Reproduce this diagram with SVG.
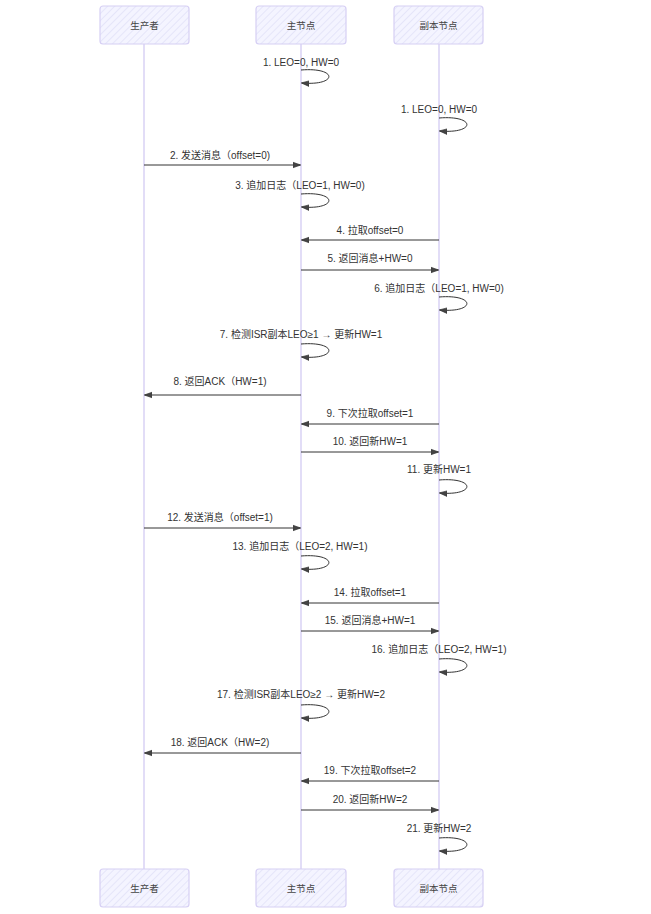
<svg xmlns="http://www.w3.org/2000/svg" width="651" height="914" viewBox="0 0 651 914">
<defs>
<pattern id="hatch" width="5" height="5" patternUnits="userSpaceOnUse" patternTransform="rotate(45)">
<rect width="5" height="5" fill="#f4f4ff"/>
<line x1="0" y1="0" x2="0" y2="5" stroke="#dcdcf6" stroke-width="1.2"/>
</pattern>
<marker id="arr" viewBox="0 0 10 10" refX="9" refY="5" markerWidth="8" markerHeight="8" orient="auto-start-reverse" markerUnits="userSpaceOnUse">
<path d="M0,1.5 L10,5 L0,8.5 z" fill="#444" stroke="#333" stroke-width="0.8"/>
</marker>
<style>
.box{fill:url(#hatch);stroke:#d6cff4;stroke-width:1.2}
.life{stroke:#cfc6f2;stroke-width:1.2}
.nl{font-family:"Liberation Sans","Noto Sans CJK SC",sans-serif;font-size:9.5px;fill:#444;text-anchor:middle}
.ml{font-family:"Liberation Sans","Noto Sans CJK SC",sans-serif;font-size:10px;fill:#333;text-anchor:middle}
.msg{stroke:#333;stroke-width:1;fill:none;marker-end:url(#arr)}
</style>
</defs>
<rect width="651" height="914" fill="#ffffff"/>
<g id="lifelines">
<line class="life" x1="144" y1="44" x2="144" y2="869"/>
<line class="life" x1="301" y1="44" x2="301" y2="869"/>
<line class="life" x1="439" y1="44" x2="439" y2="869"/>
</g>
<g id="node-producer">
<rect class="box" x="100" y="6" width="89" height="38" rx="3"/>
<text class="nl" x="144.5" y="29">生产者</text>
</g>
<g id="node-leader">
<rect class="box" x="256" y="6" width="90" height="38" rx="3"/>
<text class="nl" x="301" y="29">主节点</text>
</g>
<g id="node-follower">
<rect class="box" x="394" y="6" width="89" height="38" rx="3"/>
<text class="nl" x="438.5" y="29">副本节点</text>
</g>
<g id="node-producer-bottom">
<rect class="box" x="100" y="869" width="89" height="38" rx="3"/>
<text class="nl" x="144.5" y="892">生产者</text>
</g>
<g id="node-leader-bottom">
<rect class="box" x="256" y="869" width="90" height="38" rx="3"/>
<text class="nl" x="301" y="892">主节点</text>
</g>
<g id="node-follower-bottom">
<rect class="box" x="394" y="869" width="89" height="38" rx="3"/>
<text class="nl" x="438.5" y="892">副本节点</text>
</g>
<g id="connectors">
<path class="msg" d="M301,70 C338,67 338,86 302,83"/>
<text class="ml" x="301" y="66">1. LEO=0, HW=0</text>
<path class="msg" d="M439,118 C476,115 476,134 440,131"/>
<text class="ml" x="439" y="113">1. LEO=0, HW=0</text>
<line class="msg" x1="144" y1="165" x2="300" y2="165"/>
<text class="ml" x="220" y="159">2. 发送消息（offset=0)</text>
<path class="msg" d="M301,194 C338,191 338,210 302,207"/>
<text class="ml" x="300" y="189">3. 追加日志（LEO=1, HW=0)</text>
<line class="msg" x1="439" y1="240" x2="302" y2="240"/>
<text class="ml" x="370" y="234">4. 拉取offset=0</text>
<line class="msg" x1="301" y1="270" x2="438" y2="270"/>
<text class="ml" x="370" y="262">5. 返回消息+HW=0</text>
<path class="msg" d="M439,297 C476,294 476,313 440,310"/>
<text class="ml" x="439" y="292">6. 追加日志（LEO=1, HW=0)</text>
<path class="msg" d="M301,344 C338,341 338,360 302,357"/>
<text class="ml" x="301" y="338">7. 检测ISR副本LEO≥1 → 更新HW=1</text>
<line class="msg" x1="301" y1="395" x2="145" y2="395"/>
<text class="ml" x="220" y="385">8. 返回ACK（HW=1)</text>
<line class="msg" x1="439" y1="424" x2="302" y2="424"/>
<text class="ml" x="370" y="417">9. 下次拉取offset=1</text>
<line class="msg" x1="301" y1="452" x2="438" y2="452"/>
<text class="ml" x="370" y="445">10. 返回新HW=1</text>
<path class="msg" d="M439,480 C476,477 476,496 440,493"/>
<text class="ml" x="439" y="473">11. 更新HW=1</text>
<line class="msg" x1="144" y1="528" x2="300" y2="528"/>
<text class="ml" x="220" y="521">12. 发送消息（offset=1)</text>
<path class="msg" d="M301,556 C338,553 338,572 302,569"/>
<text class="ml" x="300" y="550">13. 追加日志（LEO=2, HW=1)</text>
<line class="msg" x1="439" y1="603" x2="302" y2="603"/>
<text class="ml" x="370" y="596">14. 拉取offset=1</text>
<line class="msg" x1="301" y1="631" x2="438" y2="631"/>
<text class="ml" x="370" y="624">15. 返回消息+HW=1</text>
<path class="msg" d="M439,659 C476,656 476,675 440,672"/>
<text class="ml" x="439" y="653">16. 追加日志（LEO=2, HW=1)</text>
<path class="msg" d="M301,705 C338,702 338,721 302,718"/>
<text class="ml" x="301" y="698">17. 检测ISR副本LEO≥2 → 更新HW=2</text>
<line class="msg" x1="301" y1="753" x2="145" y2="753"/>
<text class="ml" x="220" y="746">18. 返回ACK（HW=2)</text>
<line class="msg" x1="439" y1="781" x2="302" y2="781"/>
<text class="ml" x="370" y="774">19. 下次拉取offset=2</text>
<line class="msg" x1="301" y1="810" x2="438" y2="810"/>
<text class="ml" x="370" y="803">20. 返回新HW=2</text>
<path class="msg" d="M439,838 C476,835 476,854 440,851"/>
<text class="ml" x="439" y="832">21. 更新HW=2</text>
</g>
</svg>
